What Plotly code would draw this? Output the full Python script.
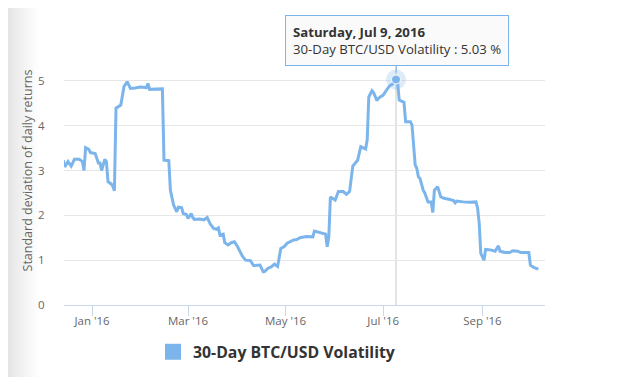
import plotly.graph_objects as go

dates = [
    "2015-12-14", "2015-12-15", "2015-12-17", "2015-12-19", "2015-12-21", "2015-12-24",
    "2015-12-26", "2015-12-27", "2015-12-28", "2015-12-30", "2015-12-31",
    "2016-01-03", "2016-01-05", "2016-01-06", "2016-01-07", "2016-01-09", "2016-01-10",
    "2016-01-11", "2016-01-13", "2016-01-14", "2016-01-15", "2016-01-16", "2016-01-19",
    "2016-01-21", "2016-01-23", "2016-01-25", "2016-01-28", "2016-01-31",
    "2016-02-04", "2016-02-05", "2016-02-06", "2016-02-11", "2016-02-14", "2016-02-15",
    "2016-02-18", "2016-02-19", "2016-02-21", "2016-02-23", "2016-02-24", "2016-02-26",
    "2016-02-27", "2016-02-29",
    "2016-03-01", "2016-03-03", "2016-03-04", "2016-03-05", "2016-03-08", "2016-03-11",
    "2016-03-13", "2016-03-15", "2016-03-17", "2016-03-19", "2016-03-20", "2016-03-21",
    "2016-03-23", "2016-03-24", "2016-03-26", "2016-03-28", "2016-03-30",
    "2016-04-01", "2016-04-04", "2016-04-06", "2016-04-08", "2016-04-09", "2016-04-11",
    "2016-04-13", "2016-04-15", "2016-04-17", "2016-04-18", "2016-04-20", "2016-04-22",
    "2016-04-24", "2016-04-25", "2016-04-26", "2016-04-28", "2016-04-30",
    "2016-05-02", "2016-05-04", "2016-05-06", "2016-05-08", "2016-05-10", "2016-05-14",
    "2016-05-18", "2016-05-19", "2016-05-22", "2016-05-25", "2016-05-26", "2016-05-27",
    "2016-05-28", "2016-05-29",
    "2016-06-01", "2016-06-03", "2016-06-06", "2016-06-08", "2016-06-10", "2016-06-12",
    "2016-06-14", "2016-06-15", "2016-06-17", "2016-06-19", "2016-06-20", "2016-06-21",
    "2016-06-22", "2016-06-24", "2016-06-25", "2016-06-27", "2016-06-28", "2016-06-30",
    "2016-07-01", "2016-07-03", "2016-07-05", "2016-07-06", "2016-07-07", "2016-07-09",
    "2016-07-10", "2016-07-11", "2016-07-14", "2016-07-15", "2016-07-18", "2016-07-19",
    "2016-07-21", "2016-07-22", "2016-07-23", "2016-07-24", "2016-07-26", "2016-07-27",
    "2016-07-29", "2016-07-31",
    "2016-08-01", "2016-08-02", "2016-08-04", "2016-08-06", "2016-08-08", "2016-08-11",
    "2016-08-14", "2016-08-15", "2016-08-16", "2016-08-20", "2016-08-24", "2016-08-28",
    "2016-08-29", "2016-08-30", "2016-08-31",
    "2016-09-02", "2016-09-03", "2016-09-06", "2016-09-09", "2016-09-11", "2016-09-12",
    "2016-09-15", "2016-09-18", "2016-09-20", "2016-09-23", "2016-09-25", "2016-09-30",
    "2016-10-01", "2016-10-03", "2016-10-06",
]
volatility = [
    3.23, 3.08, 3.20, 3.10, 3.25, 3.25,
    3.20, 3.00, 3.51, 3.47, 3.40,
    3.38, 3.17, 3.17, 3.00, 3.25, 3.20,
    2.75, 2.70, 2.65, 2.55, 4.39, 4.46,
    4.87, 4.98, 4.83, 4.84, 4.86,
    4.85, 4.94, 4.81, 4.82, 4.82, 3.23,
    3.22, 2.56, 2.23, 2.08, 2.18, 2.17,
    2.04, 2.02,
    1.93, 2.04, 1.95, 1.91, 1.92, 1.90,
    1.95, 1.80, 1.71, 1.69, 1.72, 1.56,
    1.58, 1.39, 1.34, 1.39, 1.41,
    1.30, 1.09, 1.00, 0.99, 0.99, 0.88,
    0.88, 0.89, 0.74, 0.75, 0.82, 0.85,
    0.91, 0.88, 0.86, 1.26, 1.30,
    1.38, 1.41, 1.45, 1.46, 1.50, 1.53,
    1.52, 1.65, 1.62, 1.60, 1.58, 1.30,
    1.52, 2.41,
    2.34, 2.53, 2.53, 2.47, 2.53, 3.10,
    3.20, 3.23, 3.53, 3.49, 3.48, 3.68,
    4.64, 4.78, 4.74, 4.56, 4.61, 4.66,
    4.68, 4.79, 4.89, 4.91, 4.93, 5.03,
    4.97, 4.57, 4.52, 4.09, 4.09, 4.01,
    3.12, 3.05, 2.86, 2.82, 2.56, 2.50,
    2.30, 2.30,
    2.06, 2.56, 2.64, 2.41, 2.38, 2.36,
    2.33, 2.28, 2.32, 2.30, 2.29, 2.30,
    2.16, 1.82, 1.15,
    1.00, 1.24, 1.23, 1.20, 1.32, 1.20,
    1.17, 1.17, 1.21, 1.20, 1.17, 1.17,
    0.89, 0.84, 0.80,
]

series_name = "30-Day BTC/USD Volatility"
y_title = "Standard deviation of daily returns"
x_tick_dates = ["2016-01-01", "2016-03-01", "2016-05-01", "2016-07-01", "2016-09-01"]
x_tick_labels = ["Jan '16", "Mar '16", "May '16", "Jul '16", "Sep '16"]
y_ticks = [0, 1, 2, 3, 4, 5, 6]
y_tick_labels = ["0", "1", "2", "3", "4", "5", ""]

hover_date = "2016-07-09"
hover_label = "Saturday, Jul 9, 2016"
hover_value = volatility[dates.index(hover_date)]

LINE = "#7cb5ec"
FONT = "Open Sans"

# page body has an 8px margin: figure sits at (8, 8) in the window
W, H = 609, 369
ML, MR, MT, MB = 56, 72, 28, 72
PW, PH = W - ML - MR, H - MT - MB

fig = go.Figure()

fig.add_trace(go.Scatter(
    x=dates, y=volatility, mode="lines",
    line=dict(color=LINE, width=3),
    showlegend=False, hoverinfo="skip",
))
# hover halo + point
fig.add_trace(go.Scatter(
    x=[hover_date], y=[hover_value], mode="markers",
    marker=dict(size=20, color="rgba(124,181,236,0.25)"),
    showlegend=False, hoverinfo="skip",
))
fig.add_trace(go.Scatter(
    x=[hover_date], y=[hover_value], mode="markers",
    marker=dict(size=9, color=LINE, line=dict(color="white", width=1)),
    showlegend=False, hoverinfo="skip",
))
# legend entry (square symbol)
fig.add_trace(go.Scatter(
    x=[None], y=[None], mode="markers", name=series_name,
    marker=dict(symbol="square", size=19, color=LINE),
))

shapes = []
# left page shadow gradient
n = 16
for i in range(n):
    g = int(228 + (255 - 228) * (i / (n - 1)) ** 0.8)
    shapes.append(dict(
        type="rect", xref="paper", yref="paper",
        x0=(-ML + i * 2) / PW, x1=(-ML + (i + 1) * 2) / PW,
        y0=-MB / PH, y1=1 + MT / PH,
        fillcolor=f"rgb({g},{g},{g})", line=dict(width=0), layer="below",
    ))
# crosshair
shapes.append(dict(
    type="line", xref="x", yref="paper", x0=hover_date, x1=hover_date,
    y0=0, y1=1, line=dict(color="#c8c8c8", width=1), layer="below",
))

fig.update_layout(
    width=W, height=H,
    margin=dict(l=ML, r=MR, t=MT, b=MB, autoexpand=False),
    paper_bgcolor="white", plot_bgcolor="white",
    font=dict(family=FONT, color="#666666", size=11),
    shapes=shapes,
    xaxis=dict(
        type="date", automargin=False,
        range=["2015-12-14 12:00", "2016-10-10 03:00"],
        tickvals=x_tick_dates, ticktext=x_tick_labels,
        showgrid=False, zeroline=False,
        showline=True, linecolor="#ccd6eb", linewidth=1,
        ticks="outside", ticklen=10, tickcolor="#ccd6eb",
        ticklabelstandoff=-5,
        tickfont=dict(size=11.5, color="#666666"),
    ),
    yaxis=dict(
        range=[0, 6], automargin=False,
        tickvals=y_ticks, ticktext=y_tick_labels,
        showgrid=True, gridcolor="#e6e6e6", gridwidth=1,
        zeroline=False, showline=False,
        ticks="outside", ticklen=16, tickcolor="rgba(0,0,0,0)",
        tickfont=dict(size=11.5, color="#666666"),
        title=dict(text=y_title, font=dict(size=12.5, color="#666666"), standoff=2),
    ),
    legend=dict(
        orientation="h", x=(153 - 64) / PW, xanchor="left",
        y=-30 / PH, yanchor="top",
        font=dict(family=FONT, size=15.8, color="#333333", weight="bold"),
        itemsizing="trace", bgcolor="rgba(0,0,0,0)",
    ),
    annotations=[dict(
        x=hover_date, y=hover_value, xref="x", yref="y",
        text=f"<b>{hover_label}</b><br>{series_name} : {hover_value:.2f} %",
        showarrow=True, arrowhead=0, arrowwidth=1, arrowcolor=LINE,
        ax=1, ay=-39, standoff=7,
        align="left", bgcolor="rgba(250,250,250,0.9)",
        bordercolor=LINE, borderwidth=1, borderpad=7,
        font=dict(family=FONT, size=13.2, color="#333333"),
    )],
)

fig.write_html("out.html")
